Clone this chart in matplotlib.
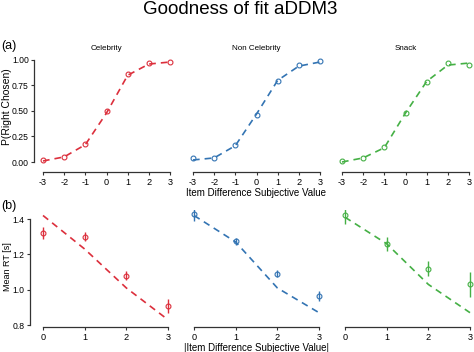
import numpy as np
import matplotlib.pyplot as plt

plt.rcParams['font.family'] = ['Liberation Sans', 'DejaVu Sans']
plt.rcParams['axes.unicode_minus'] = False

# categories and colours
groups = ['Celebrity', 'Non Celebrity', 'Snack']
colors = ['#dc2f3c', '#3374b3', '#45b045']

# (a) choice probability vs value difference
val_diff = [-3, -2, -1, 0, 1, 2, 3]
p_data = [
    [0.02, 0.05, 0.18, 0.50, 0.86, 0.97, 0.98],
    [0.04, 0.04, 0.17, 0.46, 0.79, 0.95, 0.99],
    [0.01, 0.04, 0.15, 0.48, 0.78, 0.97, 0.95],
]
p_model = [
    [0.01, 0.05, 0.17, 0.48, 0.85, 0.96, 0.98],
    [0.02, 0.04, 0.16, 0.47, 0.80, 0.94, 0.98],
    [0.00, 0.04, 0.14, 0.48, 0.79, 0.95, 0.97],
]

# (b) mean RT vs absolute value difference
abs_diff = [0, 1, 2, 3]
rt_data = [
    [1.32, 1.30, 1.08, 0.91],
    [1.43, 1.275, 1.09, 0.965],
    [1.42, 1.26, 1.12, 1.03],
]
rt_err = [
    [0.035, 0.025, 0.025, 0.04],
    [0.04, 0.02, 0.02, 0.03],
    [0.05, 0.04, 0.04, 0.07],
]
rt_model = [
    [1.42, 1.23, 1.01, 0.83],
    [1.42, 1.27, 1.01, 0.87],
    [1.41, 1.26, 1.03, 0.87],
]

W, H = 474, 352
fig = plt.figure(figsize=(W / 100, H / 100), dpi=100)


def px_axes(left, top, width, height):
    # axes placed in pixel coordinates (y measured from the top)
    return fig.add_axes([left / W, 1 - (top + height) / H, width / W, height / H])


def style(ax, show_y):
    ax.spines['top'].set_visible(False)
    ax.spines['right'].set_visible(False)
    for s in ['left', 'bottom']:
        ax.spines[s].set_color('#333333')
        ax.spines[s].set_linewidth(0.9)
    ax.tick_params(length=2.5, width=0.8, color='#333333', labelsize=6.6, pad=1.5)
    ax.tick_params(axis='y', labelsize=6.2, pad=1.2)
    if not show_y:
        ax.spines['left'].set_visible(False)
        ax.set_yticks([])
    ax.patch.set_alpha(0)


fig.suptitle('Goodness of fit aDDM3', x=240 / W, y=1 - 10 / H, va='center', fontsize=13.5)

top_lefts = [34, 184, 333]
bot_lefts = [30, 181, 332]

for i in range(3):
    # top row
    ax = px_axes(top_lefts[i], 56, 145, 116)
    ax.plot(val_diff, p_model[i], '--', color=colors[i], lw=1.2, dashes=(4, 3))
    ax.plot(val_diff, p_data[i], 'o', mfc='none', mec=colors[i], ms=3.5, mew=0.8)
    ax.set_xlim(-3.425, 3.425)
    ax.set_ylim(-0.098, 1.039)
    ax.set_xticks(val_diff)
    ax.spines['bottom'].set_bounds(-3, 3)
    ax.spines['left'].set_bounds(0, 1)
    ax.set_yticks([0, 0.25, 0.5, 0.75, 1.0])
    ax.set_yticklabels(['0.00', '0.25', '0.50', '0.75', '1.00'])
    style(ax, i == 0)
    ax.set_title(groups[i], fontsize=5.8, pad=4)
    if i == 1:
        ax.set_xlabel('Item Difference Subjective Value', fontsize=7, labelpad=1)

    # bottom row
    ax = px_axes(bot_lefts[i], 210, 151, 117)
    ax.plot(abs_diff, rt_model[i], '--', color=colors[i], lw=1.2, dashes=(4, 3))
    ax.errorbar(abs_diff, rt_data[i], yerr=rt_err[i], fmt='o', mfc='none',
                mec=colors[i], ecolor=colors[i], ms=3.5, mew=0.8, elinewidth=1.0)
    ax.set_xlim(-0.312, 3.312)
    ax.set_ylim(0.789, 1.451)
    ax.set_xticks(abs_diff)
    ax.set_yticks([0.8, 1.0, 1.2, 1.4])
    ax.spines['bottom'].set_bounds(0, 3)
    ax.spines['left'].set_bounds(0.8, 1.4)
    style(ax, i == 0)
    if i == 1:
        ax.set_xlabel('|Item Difference Subjective Value|', fontsize=7, labelpad=1)

fig.text(7 / W, 1 - 107 / H, 'P(Right Chosen)', fontsize=7.5, rotation=90,
         ha='center', va='center')
fig.text(8 / W, 1 - 267 / H, 'Mean RT [s]', fontsize=6.5, rotation=90,
         ha='center', va='center')
fig.text(1 / W, 1 - 46 / H, '(a)', fontsize=9, va='center', ha='left')
fig.text(1 / W, 1 - 206 / H, '(b)', fontsize=9, va='center', ha='left')

fig.savefig('out.png', dpi=100)
